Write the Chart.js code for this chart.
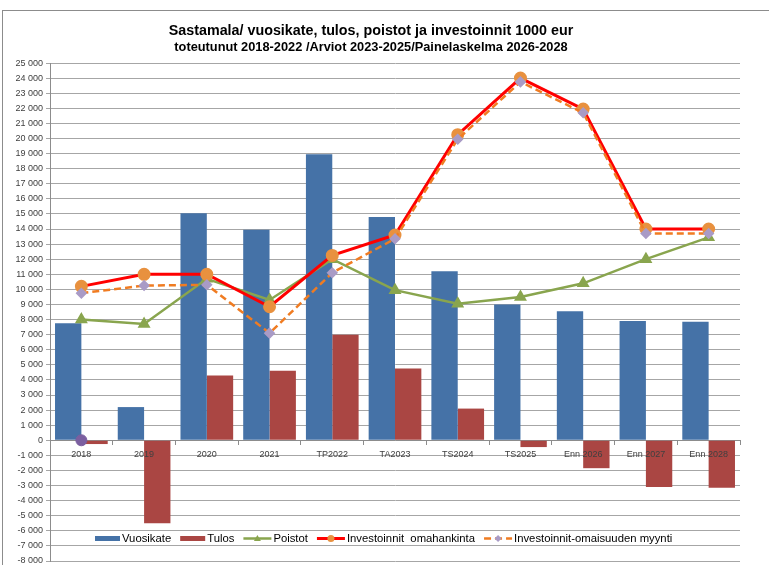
<!DOCTYPE html>
<html>
<head>
<meta charset="utf-8">
<script src="https://cdn.jsdelivr.net/npm/chart.js@4/dist/chart.umd.min.js"></script>
<style>
  html, body { margin: 0; padding: 0; background: #fff; }
  #wrap { width: 769px; height: 565px; }
</style>
</head>
<body>
<div id="wrap"><canvas id="chart" width="769" height="565"></canvas></div>
<script>
// data (1000 eur)
const categories = ["2018", "2019", "2020", "2021", "TP2022", "TA2023", "TS2024", "TS2025", "Enn 2026", "Enn 2027", "Enn 2028"];
const vuosikate = [7750, 2200, 15050, 13950, 18950, 14800, 11200, 9000, 8550, 7900, 7850];
const tulos = [-250, -5500, 4300, 4600, 7000, 4750, 2100, -450, -1850, -3100, -3150];
const poistot = [8000, 7700, 10700, 9300, 12000, 9950, 9050, 9500, 10400, 12000, 13450];
const invOmahankinta = [10200, 11000, 11000, 8850, 12250, 13600, 20250, 24000, 21950, 14000, 14000];
const invMyynti = [9750, 10250, 10300, 7100, 11100, 13350, 19950, 23750, 21700, 13700, 13700];
const lisaPiste = [0, null, null, null, null, null, null, null, null, null, null];
const yMin = -8000;
const yMax = 25000;
const yStep = 1000;

function fmt(v) {
    const s = Math.abs(v).toString().replace(/\B(?=(\d{3})+(?!\d))/g, " ");
    return (v < 0 ? "-" : "") + s;
}

// white background + outer frame
const framePlugin = {
    id: "frame",
    beforeDraw(chart) {
        const ctx = chart.ctx;
        ctx.save();
        ctx.fillStyle = "#fff";
        ctx.fillRect(0, 0, chart.width, chart.height);
        ctx.strokeStyle = "#8c8c8c";
        ctx.lineWidth = 1;
        ctx.strokeRect(2.5, 10.5, 800, 600);
        ctx.restore();
    }
};

// legend drawn inside the plot, like the excel original
const legendPlugin = {
    id: "insideLegend",
    afterDraw(chart) {
        const ctx = chart.ctx;
        const y = 538.5;
        let x = 95;
        ctx.save();
        ctx.font = "11.3px 'Liberation Sans', Arial, sans-serif";
        ctx.textBaseline = "middle";
        chart.data.datasets.forEach((ds) => {
            if (ds.skipLegend) return;
            if (ds.type === "bar") {
                ctx.fillStyle = ds.backgroundColor;
                ctx.fillRect(x, y - 2.5, 25, 5);
                x += 27;
            } else {
                ctx.strokeStyle = ds.borderColor;
                ctx.lineWidth = ds.borderWidth;
                ctx.setLineDash(ds.borderDash || []);
                ctx.beginPath();
                ctx.moveTo(x, y);
                ctx.lineTo(x + 28, y);
                ctx.stroke();
                ctx.setLineDash([]);
                ctx.fillStyle = ds.pointBackgroundColor;
                const cx = x + 14;
                ctx.beginPath();
                if (ds.pointStyle === "triangle") {
                    ctx.moveTo(cx, y - 3.5);
                    ctx.lineTo(cx + 3.5, y + 2.5);
                    ctx.lineTo(cx - 3.5, y + 2.5);
                } else if (ds.pointStyle === "rectRot") {
                    ctx.moveTo(cx, y - 3.5);
                    ctx.lineTo(cx + 3.5, y);
                    ctx.lineTo(cx, y + 3.5);
                    ctx.lineTo(cx - 3.5, y);
                } else {
                    ctx.arc(cx, y, 3.5, 0, Math.PI * 2);
                }
                ctx.closePath();
                ctx.fill();
                x += 30;
            }
            ctx.fillStyle = "#000";
            ctx.fillText(ds.label, x, y);
            x += ctx.measureText(ds.label).width + 9;
        });
        ctx.restore();
    }
};

new Chart(document.getElementById("chart"), {
    data: {
        labels: categories,
        datasets: [
            {
                type: "bar",
                label: "Vuosikate",
                data: vuosikate,
                backgroundColor: "#4572A7",
                categoryPercentage: 0.84,
                barPercentage: 1.0,
                order: 8
            },
            {
                type: "bar",
                label: "Tulos",
                data: tulos,
                backgroundColor: "#AA4643",
                categoryPercentage: 0.84,
                barPercentage: 1.0,
                order: 9
            },
            {
                type: "line",
                label: "Poistot",
                data: poistot,
                borderColor: "#89A54E",
                borderWidth: 2.5,
                pointStyle: "triangle",
                pointRadius: 5,
                pointBackgroundColor: "#89A54E",
                pointBorderColor: "#89A54E",
                tension: 0,
                order: 4
            },
            {
                type: "line",
                label: "Investoinnit  omahankinta",
                data: invOmahankinta,
                borderColor: "#FF0000",
                borderWidth: 3,
                pointStyle: "circle",
                pointRadius: 5,
                pointBackgroundColor: "#E8913F",
                pointBorderColor: "#E8913F",
                tension: 0,
                order: 3
            },
            {
                type: "line",
                label: "Investoinnit-omaisuuden myynti",
                data: invMyynti,
                borderColor: "#F07C22",
                borderWidth: 2.5,
                borderDash: [7, 4],
                pointStyle: "rectRot",
                pointRadius: 4,
                pointBackgroundColor: "#A99BC6",
                pointBorderColor: "#A99BC6",
                tension: 0,
                order: 2
            },
            {
                type: "line",
                label: "",
                data: lisaPiste,
                showLine: false,
                pointStyle: "circle",
                pointRadius: 5.5,
                pointBackgroundColor: "#7B5FA0",
                pointBorderColor: "#7B5FA0",
                skipLegend: true,
                order: 1
            }
        ]
    },
    options: {
        responsive: false,
        animation: false,
        layout: { autoPadding: false, padding: { left: 2, right: 29, top: 22, bottom: 4 } },
        plugins: {
            legend: { display: false },
            tooltip: { enabled: false },
            title: {
                display: true,
                text: "Sastamala/ vuosikate, tulos, poistot ja investoinnit 1000 eur",
                color: "#000",
                font: { family: "'Liberation Sans', Arial, sans-serif", size: 14.3, weight: "bold", lineHeight: 1.2 },
                padding: { top: 0, bottom: 1 }
            },
            subtitle: {
                display: true,
                text: "toteutunut 2018-2022 /Arviot 2023-2025/Painelaskelma 2026-2028",
                color: "#000",
                font: { family: "'Liberation Sans', Arial, sans-serif", size: 12.8, weight: "bold", lineHeight: 1.2 },
                padding: { top: 0, bottom: 7.5 }
            }
        },
        scales: {
            x: {
                position: { y: 0 },
                grid: { offset: true, drawOnChartArea: false, drawTicks: true, tickLength: 4, color: "#8c8c8c" },
                border: { color: "#8c8c8c" },
                ticks: {
                    z: 1,
                    color: "#404040",
                    font: { family: "'Liberation Sans', Arial, sans-serif", size: 9 },
                    padding: 5,
                    maxRotation: 0,
                    autoSkip: false
                }
            },
            y: {
                min: yMin,
                max: yMax,
                afterFit(scale) {
                    scale.width = 48;
                    scale.paddingTop = 0;
                    scale.paddingBottom = 0;
                },
                grid: { color: "#a6a6a6", lineWidth: 1, tickLength: 4 },
                border: { color: "#8c8c8c" },
                ticks: {
                    stepSize: yStep,
                    autoSkip: false,
                    color: "#404040",
                    padding: 3,
                    font: { family: "'Liberation Sans', Arial, sans-serif", size: 9 },
                    callback: (v) => fmt(v)
                }
            }
        }
    },
    plugins: [framePlugin, legendPlugin]
});
</script>
</body>
</html>
